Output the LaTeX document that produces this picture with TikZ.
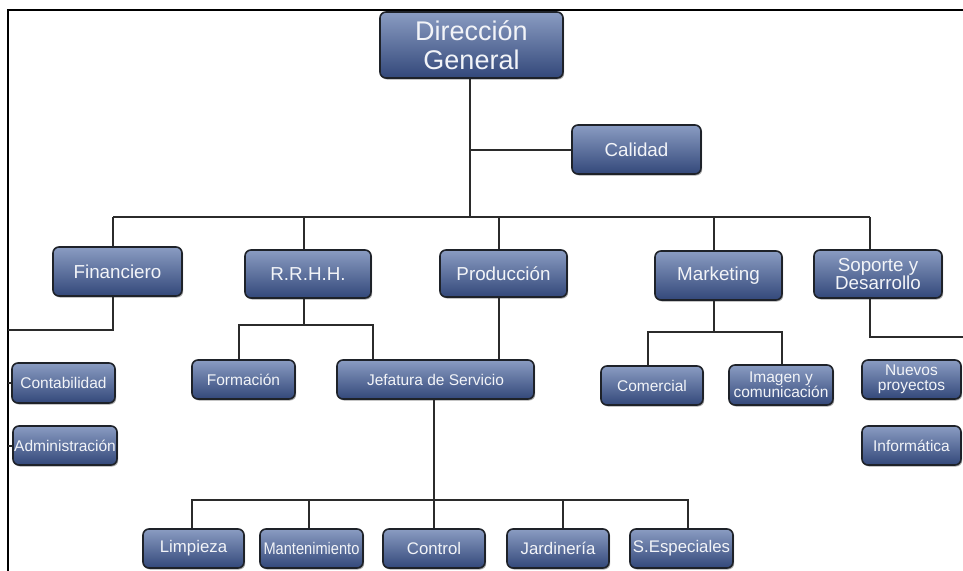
\documentclass[tikz,border=0pt]{standalone}
\usepackage{graphicx}
\usepackage{fontspec}
\setmainfont{Liberation Sans}
\usetikzlibrary{shadows}
\definecolor{boxtop}{HTML}{8A9CC2}
\definecolor{boxbot}{HTML}{33487A}
\definecolor{boxedge}{HTML}{1E2229}
\definecolor{linec}{HTML}{2B2B2B}
\definecolor{txt}{HTML}{F2F4F8}
\tikzset{
  orgbox/.style={draw=boxedge, line width=1.6pt, rounded corners=6pt,
    top color=boxtop, bottom color=boxbot, text=txt, inner sep=0pt, align=center,
    drop shadow={shadow xshift=1.2pt, shadow yshift=-1.5pt, opacity=0.35, fill=black}},
  lvltop/.style={orgbox, font=\fontsize{27}{29}\selectfont},
  lvltwo/.style={orgbox, font=\fontsize{18.8}{18.5}\selectfont},
  lvlthree/.style={orgbox, font=\fontsize{15.5}{15}\selectfont},
  lvlfour/.style={orgbox, font=\fontsize{16.8}{17}\selectfont},
  conn/.style={draw=linec, line width=2pt},
  frameline/.style={draw=black, line width=2pt},
}
\begin{document}
\begin{tikzpicture}[x=1pt, y=-1pt]
\useasboundingbox (0,0) rectangle (963,570);
\fill[white] (0,0) rectangle (963,570);
% frame
\draw[frameline] (8,572) -- (8,9.5) -- (965,9.5);

% nodes
\node[lvltop, minimum width=183pt, minimum height=66pt] (dg) at (471.5,45) {Dirección\\General};
\node[lvltwo, minimum width=129pt, minimum height=49pt] (cal) at (636.5,149.5) {Calidad};

\node[lvltwo, minimum width=129pt, minimum height=49pt] (fin) at (117.5,271.5) {Financiero};
\node[lvltwo, minimum width=126pt, minimum height=48pt] (rrhh) at (308,274) {R.R.H.H.};
\node[lvltwo, minimum width=127pt, minimum height=47pt] (prod) at (503.5,273.5) {Producción};
\node[lvltwo, minimum width=127pt, minimum height=49pt] (mkt) at (718.5,275.5) {Marketing};
\node[lvltwo, minimum width=128pt, minimum height=48pt] (sop) at (878,274) {Soporte y\\Desarrollo};

\node[lvlthree, minimum width=103pt, minimum height=40pt] (cont) at (63.5,383) {Contabilidad};
\node[lvlthree, minimum width=104pt, minimum height=39pt] (adm) at (65,445.5) {Administración};
\node[lvlthree, minimum width=103pt, minimum height=39pt] (form) at (243.5,379.5) {Formación};
\node[lvlthree, minimum width=197pt, minimum height=39pt] (jef) at (435.5,379.5) {Jefatura de Servicio};
\node[lvlthree, minimum width=102pt, minimum height=39pt] (com) at (652,385.5) {Comercial};
\node[lvlthree, minimum width=104pt, minimum height=40pt] (img) at (781,385) {Imagen y\\comunicación};
\node[lvlthree, minimum width=99pt, minimum height=39pt] (nue) at (911.5,379.5) {Nuevos\\proyectos};
\node[lvlthree, minimum width=99pt, minimum height=39pt] (inf) at (911.5,445.5) {Informática};

\node[lvlfour, minimum width=101pt, minimum height=39pt] (lim) at (193.5,548.5) {Limpieza};
\node[lvlfour, minimum width=103pt, minimum height=39pt] (man) at (311.5,548.5) {\scalebox{0.87}[1]{Mantenimiento}};
\node[lvlfour, minimum width=102pt, minimum height=39pt] (ctl) at (434,548.5) {Control};
\node[lvlfour, minimum width=102pt, minimum height=39pt] (jar) at (558,548.5) {Jardinería};
\node[lvlfour, minimum width=103pt, minimum height=39pt] (spe) at (681.5,548.5) {S.Especiales};

% coordinates
\coordinate (trunk) at (470,217);
\coordinate (busL) at (113,217);
\coordinate (busR) at (870,217);
\coordinate (dR) at (304,217);
\coordinate (dP) at (499,217);
\coordinate (dM) at (714,217);
\coordinate (finK) at (113,330);
\coordinate (finEnd) at (8,330);
\coordinate (frameX) at (8,0);
\coordinate (rK) at (304,325);
\coordinate (rL) at (239,325);
\coordinate (rR) at (373,325);
\coordinate (jK) at (434,500);
\coordinate (jL) at (192,500);
\coordinate (jR) at (688,500);
\coordinate (jM1) at (309,500);
\coordinate (jM2) at (563,500);
\coordinate (mK) at (714,332);
\coordinate (mL) at (648,332);
\coordinate (mR) at (782,332);
\coordinate (sK) at (870,337);
\coordinate (sEnd) at (965,337);

% connectors
\begin{scope}[on background layer/.try]
\draw[conn] (trunk |- dg.south) -- (trunk);
\draw[conn] (trunk |- cal.west) -- (cal.west);
\draw[conn] (busL) -- (busR);
\draw[conn] (busL) -- (busL |- fin.north);
\draw[conn] (dR) -- (dR |- rrhh.north);
\draw[conn] (dP) -- (dP |- prod.north);
\draw[conn] (dM) -- (dM |- mkt.north);
\draw[conn] (busR) -- (busR |- sop.north);

\draw[conn] (finK |- fin.south) -- (finK) -- (finEnd);
\draw[conn] (frameX |- cont.west) -- (cont.west);
\draw[conn] (frameX |- adm.west) -- (adm.west);

\draw[conn] (rK |- rrhh.south) -- (rK);
\draw[conn] (rL |- form.north) -- (rL) -- (rR) -- (rR |- jef.north);
\draw[conn] (dP |- prod.south) -- (dP |- jef.north);

\draw[conn] (jK |- jef.south) -- (jK);
\draw[conn] (jL |- lim.north) -- (jL) -- (jR) -- (jR |- spe.north);
\draw[conn] (jM1) -- (jM1 |- man.north);
\draw[conn] (jK) -- (jK |- ctl.north);
\draw[conn] (jM2) -- (jM2 |- jar.north);

\draw[conn] (mK |- mkt.south) -- (mK);
\draw[conn] (mL |- com.north) -- (mL) -- (mR) -- (mR |- img.north);

\draw[conn] (sK |- sop.south) -- (sK) -- (sEnd);
\end{scope}
\end{tikzpicture}
\end{document}
